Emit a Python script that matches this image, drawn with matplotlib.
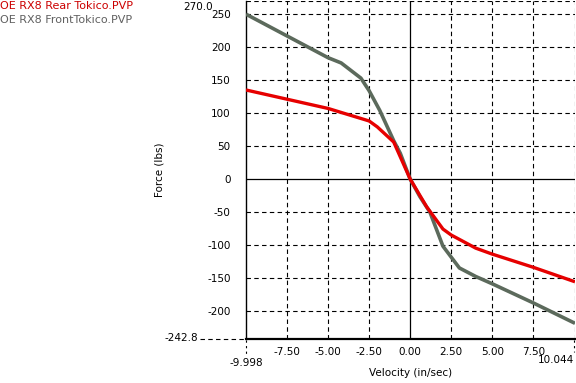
import matplotlib
matplotlib.use("Agg")
import matplotlib.pyplot as plt

# 댐퍼 특성 곡선 (속도 in/sec, 힘 lbs)
rear_vel = [-9.998, -7.5, -5.0, -2.5, -2.0, -1.0, 0.0, 1.0, 2.0, 2.5, 4.0, 5.0, 7.5, 10.044]
rear_force = [135, 121, 107, 88, 79, 56, 0, -42, -76, -85, -105, -114, -134, -156]

front_vel = [-9.998, -7.5, -5.0, -4.2, -3.0, -2.5, -1.85, -1.0, -0.6, 0.0,
             0.6, 1.2, 2.0, 3.0, 4.0, 5.0, 7.5, 10.044]
front_force = [250, 217, 184, 176, 153, 134, 104, 58, 39, 0,
               -27, -50, -102, -135, -148, -159, -188, -219]

series_names = ["OE RX8 Rear Tokico.PVP", "OE RX8 FrontTokico.PVP"]
series_colors = ["#e60000", "#5c6a5c"]
label_colors = ["#cc0000", "#606060"]

x_min, x_max = -9.998, 10.044
y_min, y_max = -242.8, 270.0
x_ticks = [-7.5, -5.0, -2.5, 0.0, 2.5, 5.0, 7.5]
y_ticks = [250, 200, 150, 100, 50, 0, -50, -100, -150, -200]

W, H = 576, 383
fig = plt.figure(figsize=(W / 100, H / 100), dpi=100)
ax = fig.add_axes([246 / W, 1 - 339 / H, (575 - 246) / W, (339 - 1) / H])

fs = 7.5
dash = (0, (4, 3))
ax.plot(rear_vel, rear_force, color=series_colors[0], lw=2.4, zorder=4, solid_capstyle="butt")
ax.plot(front_vel, front_force, color=series_colors[1], lw=2.6, zorder=3, solid_capstyle="butt")

ax.set_xlim(x_min, x_max)
ax.set_ylim(y_min, y_max)
ax.set_xticks(x_ticks)
ax.set_xticklabels([f"{v:.2f}" for v in x_ticks])
ax.set_yticks(y_ticks)
ax.set_yticklabels([str(v) for v in y_ticks])
ax.tick_params(length=0, labelsize=fs)
ax.tick_params(axis="y", pad=11)
ax.tick_params(axis="x", pad=6)

# 격자: 점선, 0 선은 실선
for v in x_ticks:
    if v != 0:
        ax.axvline(v, color="black", lw=0.8, ls=dash, zorder=1)
for v in y_ticks:
    if v != 0:
        ax.axhline(v, color="black", lw=0.8, ls=dash, zorder=1)
ax.axvline(0, color="black", lw=0.9, zorder=2)
ax.axhline(0, color="black", lw=0.9, zorder=2)
ax.axvline(x_max, color="black", lw=0.8, ls=dash, zorder=1)
ax.axhline(y_max, color="black", lw=0.8, ls=dash, zorder=1)

for side in ["top", "right"]:
    ax.spines[side].set_visible(False)
ax.spines["left"].set_linewidth(1.0)
ax.spines["bottom"].set_linewidth(1.6)

# 축 끝 값 표시 (픽셀 위치 기준)
def px(x, y):
    return x / W, 1 - y / H

fig.text(*px(213, 7), "270.0", ha="right", va="center", fontsize=fs)
fig.text(*px(198, 338), "-242.8", ha="right", va="center", fontsize=fs)
fig.lines.append(plt.Line2D([200 / W, 246 / W], [1 - 338.5 / H] * 2, transform=fig.transFigure,
                            color="black", lw=0.8, ls=dash))
fig.lines.append(plt.Line2D([246 / W] * 2, [1 - 340 / H, 1 - 355 / H], transform=fig.transFigure,
                            color="black", lw=0.8, ls=(0, (2, 3))))
fig.text(*px(246, 363), "-9.998", ha="center", va="center", fontsize=fs)
fig.lines.append(plt.Line2D([574 / W] * 2, [1 - 340 / H, 1 - 352 / H], transform=fig.transFigure,
                            color="black", lw=0.8, ls=(0, (2, 3))))
fig.text(*px(574, 360), "10.044", ha="right", va="center", fontsize=fs)

ax.set_xlabel("Velocity (in/sec)", fontsize=fs, labelpad=8)
fig.text(*px(160, 170), "Force (lbs)", rotation=90, ha="center", va="center", fontsize=fs)

# 범례 (좌상단 텍스트)
for i, name in enumerate(series_names):
    fig.text(*px(0, 6 + 14 * i), name, color=label_colors[i], fontsize=8,
             ha="left", va="center")

fig.savefig("out.png", dpi=100)
